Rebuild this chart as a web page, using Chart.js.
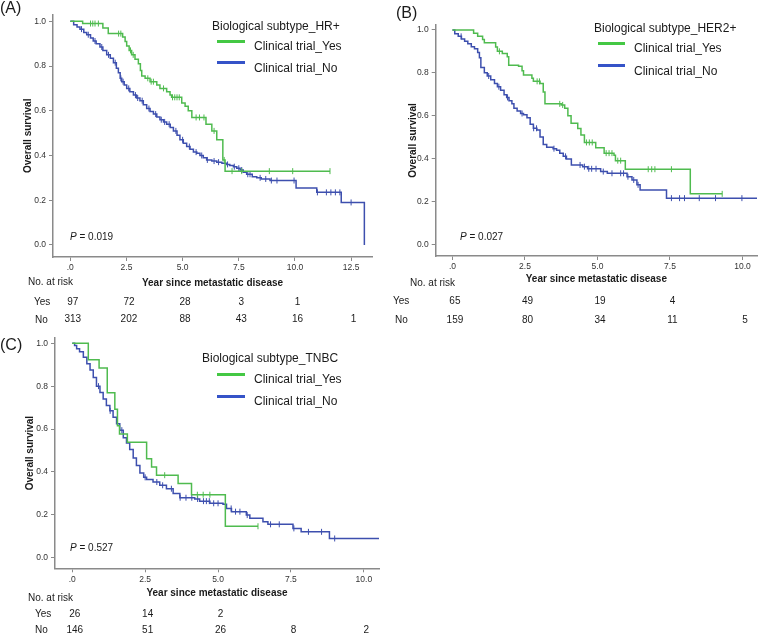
<!DOCTYPE html>
<html><head><meta charset="utf-8">
<script src="https://cdn.jsdelivr.net/npm/chart.js@4.4.1/dist/chart.umd.min.js"></script>
<style>
body{margin:0;background:#fff;font-family:"Liberation Sans",Arial,sans-serif;}
#wrap{position:relative;width:762px;height:633px;overflow:hidden;background:#fff;}
canvas{position:absolute;}
.t{position:absolute;white-space:nowrap;color:#1a1a1a;line-height:1;}
.ln{position:absolute;height:3px;}
</style></head><body><div id="wrap">
<canvas id="cA" width="385" height="330" style="left:0;top:0"></canvas>
<canvas id="cB" width="377" height="330" style="left:385px;top:0"></canvas>
<canvas id="cC" width="390" height="333" style="left:0;top:300px"></canvas>
</div>
<script>
// ---------- DATA ----------
// Panel A: HR+
const xTicksA = [0, 2.5, 5, 7.5, 10, 12.5];
const tA_yes = [0, 0.55, 1.45, 1.69, 2.33, 2.44, 2.51, 2.62, 2.73, 2.88, 3.03, 3.12, 3.18, 3.33, 3.55, 3.85, 3.99, 4.29, 4.44, 4.51, 4.96, 5.11, 5.25, 5.41, 6.04, 6.30, 6.52, 6.79, 6.89, 11.56];
const sA_yes = [1.0, 0.99, 0.97, 0.945, 0.93, 0.91, 0.89, 0.87, 0.85, 0.83, 0.81, 0.78, 0.755, 0.745, 0.73, 0.715, 0.70, 0.685, 0.67, 0.66, 0.635, 0.62, 0.60, 0.57, 0.54, 0.51, 0.47, 0.38, 0.33, 0.33];
const cA_yes = [0.9, 1.0, 1.1, 1.25, 2.15, 2.25, 2.68, 2.80, 3.45, 3.6, 3.7, 4.15, 4.55, 4.65, 4.75, 4.85, 5.6, 5.75, 5.95, 6.4, 6.85, 7.2, 7.63, 8.86, 9.9, 11.56];
const tA_no = [0, 0.15, 0.3, 0.43, 0.6, 0.73, 0.9, 1.02, 1.15, 1.32, 1.45, 1.62, 1.78, 1.92, 2.05, 2.14, 2.22, 2.29, 2.4, 2.51, 2.65, 2.81, 2.95, 3.10, 3.25, 3.40, 3.55, 3.70, 3.85, 3.99, 4.15, 4.29, 4.45, 4.59, 4.75, 4.88, 5.03, 5.18, 5.33, 5.48, 5.63, 5.77, 5.92, 6.07, 6.3, 6.52, 6.75, 6.96, 7.1, 7.26, 7.41, 7.56, 7.7, 7.85, 8.1, 8.30, 8.5, 8.89, 10.05, 10.97, 12.06, 13.09];
const sA_no = [1.0, 0.985, 0.975, 0.965, 0.95, 0.94, 0.925, 0.912, 0.9, 0.885, 0.87, 0.85, 0.835, 0.815, 0.79, 0.77, 0.745, 0.73, 0.715, 0.70, 0.685, 0.67, 0.657, 0.645, 0.627, 0.61, 0.597, 0.585, 0.572, 0.56, 0.55, 0.54, 0.525, 0.51, 0.49, 0.47, 0.455, 0.44, 0.428, 0.415, 0.41, 0.40, 0.39, 0.38, 0.375, 0.37, 0.365, 0.36, 0.355, 0.35, 0.343, 0.335, 0.325, 0.316, 0.305, 0.30, 0.295, 0.288, 0.255, 0.235, 0.19, 0.0];
const cA_no = [0.5, 0.8, 1.1, 1.4, 1.7, 2.0, 2.25, 2.35, 2.6, 2.9, 3.0, 3.2, 3.5, 3.8, 4.05, 4.2, 4.4, 4.7, 5.0, 5.3, 5.6, 5.85, 6.1, 6.4, 6.6, 7.0, 7.3, 7.5, 7.63, 7.9, 8.0, 8.45, 8.7, 8.95, 9.2, 9.96, 11.0, 11.4, 11.6, 11.8, 12.0, 12.5];
const riskA_yes = [97, 72, 28, 3, 1];
const riskA_no = [313, 202, 88, 43, 16, 1];

// Panel B: HER2+
const xTicksB = [0, 2.5, 5, 7.5, 10];
const tB_yes = [0, 0.73, 0.87, 1.04, 1.10, 1.49, 1.55, 1.72, 1.89, 1.94, 2.28, 2.40, 2.45, 2.74, 2.79, 3.02, 3.13, 3.19, 3.75, 3.87, 3.98, 4.09, 4.32, 4.43, 4.55, 4.94, 5.23, 5.57, 5.62, 5.96, 8.20, 9.30];
const sB_yes = [1.0, 0.985, 0.97, 0.955, 0.94, 0.92, 0.90, 0.89, 0.875, 0.835, 0.83, 0.81, 0.79, 0.775, 0.76, 0.75, 0.71, 0.655, 0.65, 0.635, 0.60, 0.565, 0.54, 0.51, 0.475, 0.45, 0.425, 0.415, 0.39, 0.35, 0.235, 0.235];
const cB_yes = [1.62, 2.92, 3.0, 3.7, 3.8, 4.62, 4.72, 4.82, 5.3, 5.4, 5.5, 5.7, 5.8, 6.75, 6.87, 6.98, 7.55, 9.30];
const tB_no = [0, 0.08, 0.2, 0.31, 0.42, 0.53, 0.65, 0.76, 0.87, 0.93, 0.98, 1.10, 1.2, 1.32, 1.45, 1.55, 1.66, 1.78, 1.87, 1.95, 2.05, 2.12, 2.23, 2.35, 2.45, 2.57, 2.68, 2.79, 2.91, 3.02, 3.13, 3.25, 3.47, 3.59, 3.70, 3.82, 3.93, 4.10, 4.49, 4.66, 5.11, 5.34, 6.02, 6.19, 6.36, 6.47, 7.38, 10.5];
const sB_no = [1.0, 0.982, 0.97, 0.958, 0.947, 0.935, 0.922, 0.912, 0.895, 0.87, 0.825, 0.8, 0.785, 0.768, 0.75, 0.735, 0.718, 0.698, 0.685, 0.67, 0.655, 0.635, 0.622, 0.61, 0.604, 0.59, 0.56, 0.541, 0.533, 0.5, 0.465, 0.452, 0.446, 0.438, 0.425, 0.41, 0.398, 0.37, 0.362, 0.352, 0.339, 0.331, 0.315, 0.30, 0.277, 0.253, 0.215, 0.215];
const cB_no = [0.3, 1.25, 1.6, 1.9, 2.4, 2.8, 2.9, 3.5, 3.9, 4.4, 4.55, 4.7, 4.8, 4.95, 5.2, 5.5, 5.8, 5.9, 6.05, 6.25, 6.4, 7.55, 7.83, 8.0, 8.51, 9.07, 9.98];
const riskB_yes = [65, 49, 19, 4];
const riskB_no = [159, 80, 34, 11, 5];

// Panel C: TNBC
const xTicksC = [0, 2.5, 5, 7.5, 10];
const tC_yes = [0, 0.55, 0.92, 1.20, 1.46, 1.55, 1.62, 1.89, 2.55, 2.72, 2.89, 3.63, 4.09, 5.25, 6.37];
const sC_yes = [1.0, 0.923, 0.885, 0.769, 0.692, 0.615, 0.577, 0.538, 0.462, 0.423, 0.385, 0.346, 0.294, 0.147, 0.147];
const cC_yes = [3.17, 4.29, 4.49, 4.72, 6.37];
const tC_no = [0, 0.08, 0.15, 0.25, 0.38, 0.5, 0.61, 0.72, 0.83, 0.95, 1.06, 1.17, 1.29, 1.4, 1.52, 1.63, 1.75, 1.86, 1.97, 2.09, 2.2, 2.32, 2.45, 2.55, 2.77, 3.0, 3.23, 3.46, 3.69, 4.2, 4.37, 4.72, 5.17, 5.29, 5.46, 5.97, 6.09, 6.54, 6.71, 7.57, 7.85, 8.82, 10.54];
const sC_no = [1.0, 0.99, 0.975, 0.96, 0.935, 0.905, 0.875, 0.84, 0.8, 0.77, 0.74, 0.71, 0.685, 0.655, 0.625, 0.595, 0.56, 0.535, 0.505, 0.465, 0.43, 0.395, 0.375, 0.365, 0.353, 0.338, 0.322, 0.3, 0.28, 0.274, 0.264, 0.254, 0.25, 0.23, 0.215, 0.199, 0.184, 0.168, 0.156, 0.137, 0.121, 0.09, 0.09];
const cC_no = [0.9, 1.3, 1.7, 2.5, 2.9, 3.1, 3.4, 3.7, 3.9, 4.1, 4.3, 4.5, 4.6, 4.7, 4.85, 5.0, 5.45, 5.6, 5.75, 6.0, 6.8, 7.1, 7.6, 8.1, 8.55, 9.0];
const riskC_yes = [26, 14, 2];
const riskC_no = [146, 51, 26, 8, 2];

const yTicks = [0, 0.2, 0.4, 0.6, 0.8, 1.0];

// ---------- STYLE ----------
const GREEN = '#4fbb4f', BLUE = '#3d4fae', AXIS = '#8a8a8a', TXT = '#1a1a1a';
const FONT = '"Liberation Sans", Arial, sans-serif';

function stepAt(ts, ss, t) { let v = ss[0]; for (let i = 0; i < ts.length; i++) if (ts[i] <= t) v = ss[i]; return v; }
function pts(ts, ss) { return ts.map((t, i) => ({x: t, y: ss[i]})); }
function cens(cs, ts, ss) { return cs.map(t => ({x: t, y: stepAt(ts, ss, t)})); }

const riskPlugin = {
  id: 'riskTable',
  afterDraw(chart, args, o) {
    if (!o || !o.rows) return;
    const ctx = chart.ctx, xs = chart.scales.x;
    ctx.save();
    ctx.font = '10px ' + FONT; ctx.fillStyle = TXT; ctx.textAlign = 'center'; ctx.textBaseline = 'middle';
    o.rows.forEach(r => r.values.forEach((v, i) => ctx.fillText(String(v), xs.getPixelForValue(o.times[i]) + 2.5, r.y)));
    ctx.restore();
  }
};

function makeChart(id, p) {
  const ds = [
    {data: pts(p.tNo, p.sNo), borderColor: BLUE, borderWidth: 1.5, stepped: true, pointRadius: 0, fill: false, order: 2},
    {data: pts(p.tYes, p.sYes), borderColor: GREEN, borderWidth: 1.5, stepped: true, pointRadius: 0, fill: false, order: 1},
    {data: cens(p.cNo, p.tNo, p.sNo), showLine: false, pointStyle: 'line', rotation: 90, pointRadius: 3, borderColor: BLUE, borderWidth: 1, order: 2},
    {data: cens(p.cYes, p.tYes, p.sYes), showLine: false, pointStyle: 'line', rotation: 90, pointRadius: 3, borderColor: GREEN, borderWidth: 1, order: 1}
  ];
  return new Chart(document.getElementById(id), {
    type: 'line',
    data: {datasets: ds},
    plugins: [riskPlugin],
    options: {
      responsive: false, animation: false, devicePixelRatio: 1,
      layout: {padding: p.pad},
      plugins: {legend: {display: false}, tooltip: {enabled: false},
        riskTable: {times: p.xTicks, rows: p.rows}},
      scales: {
        x: {type: 'linear', min: p.xmin, max: p.xmax,
          afterBuildTicks: s => { s.ticks = p.xTicks.map(v => ({value: v})); },
          afterFit: s => { s.height = p.xh; },
          grid: {display: true, drawOnChartArea: false, drawTicks: true, tickLength: 4, color: AXIS, lineWidth: 1},
          border: {display: true, color: AXIS, width: 1.5},
          ticks: {callback: v => v === 0 ? '.0' : v.toFixed(1), font: {size: 8.5, family: FONT}, color: '#333', padding: 2, maxRotation: 0},
          title: {display: true, text: 'Year since metastatic disease', font: {size: 10, weight: 'bold', family: FONT}, color: TXT, padding: 0}
        },
        y: {type: 'linear', min: p.ymin, max: p.ymax,
          afterBuildTicks: s => { s.ticks = yTicks.map(v => ({value: v})); },
          afterFit: s => { s.width = p.yw; },
          grid: {display: true, drawOnChartArea: false, drawTicks: true, tickLength: 4, color: AXIS, lineWidth: 1},
          border: {display: true, color: AXIS, width: 1.5},
          ticks: {callback: v => v.toFixed(1), font: {size: 8.5, family: FONT}, color: '#333', padding: 3},
          title: {display: true, text: 'Overall survival', font: {size: 10, weight: 'bold', family: FONT}, color: TXT, padding: {top: p.ytp, bottom: 0}}
        }
      }
    }
  });
}

makeChart('cA', {tYes: tA_yes, sYes: sA_yes, cYes: cA_yes, tNo: tA_no, sNo: sA_no, cNo: cA_no,
  xTicks: xTicksA, xmin: -0.77, xmax: 13.43, ymin: -0.054, ymax: 1.03,
  pad: {left: 0, top: 14.6, right: 13, bottom: 41}, xh: 32, yw: 53, ytp: 22,
  rows: [{y: 302, values: riskA_yes}, {y: 319.5, values: riskA_no}]});
makeChart('cB', {tYes: tB_yes, sYes: sB_yes, cYes: cB_yes, tNo: tB_no, sNo: sB_no, cNo: cB_no,
  xTicks: xTicksB, xmin: -0.577, xmax: 10.5, ymin: -0.055, ymax: 1.023,
  pad: {left: 0, top: 25, right: 0, bottom: 45}, xh: 29, yw: 50.7, ytp: 22,
  rows: [{y: 301, values: riskB_yes}, {y: 320, values: riskB_no}]});
makeChart('cC', {tYes: tC_yes, sYes: sC_yes, cYes: cC_yes, tNo: tC_no, sNo: sC_no, cNo: cC_no,
  xTicks: xTicksC, xmin: -0.592, xmax: 10.52, ymin: -0.049, ymax: 1.025,
  pad: {left: 0, top: 37.9, right: 11, bottom: 33.7}, xh: 31, yw: 55, ytp: 24,
  rows: [{y: 314, values: riskC_yes}, {y: 330, values: riskC_no}]});

// ---------- TEXT ----------
const wrap = document.getElementById('wrap');
function txt(html, left, cy, size, extra) {
  const d = document.createElement('div'); d.className = 't'; d.innerHTML = html;
  d.style.left = left + 'px'; d.style.top = (cy - size * 0.5) + 'px'; d.style.fontSize = size + 'px';
  if (extra) Object.assign(d.style, extra);
  wrap.appendChild(d);
}
function line(left, top, width, color) {
  const d = document.createElement('div'); d.className = 'ln';
  d.style.left = left + 'px'; d.style.top = top + 'px'; d.style.width = width + 'px'; d.style.background = color;
  wrap.appendChild(d);
}
// panel labels
txt('(A)', 0, 7.5, 16); txt('(B)', 396, 12.5, 16); txt('(C)', 0, 345, 16);
// legends
txt('Biological subtype_HR+', 212, 25.5, 12); line(217, 39.5, 28, '#44c844'); txt('Clinical trial_Yes', 254, 45.5, 12);
line(217, 61, 28, '#3553c8'); txt('Clinical trial_No', 254, 68, 12);
txt('Biological subtype_HER2+', 594, 28.3, 12); line(598, 42, 27, '#44c844'); txt('Clinical trial_Yes', 634, 48.3, 12);
line(598, 63.5, 27, '#3553c8'); txt('Clinical trial_No', 634, 70.7, 12);
txt('Biological subtype_TNBC', 202, 358.3, 12); line(217, 372.5, 28, '#44c844'); txt('Clinical trial_Yes', 254, 379, 12);
line(217, 394.5, 28, '#3553c8'); txt('Clinical trial_No', 254, 400.7, 12);
// p-values
txt('<i>P</i> = 0.019', 70, 236.7, 10); txt('<i>P</i> = 0.027', 460, 236.7, 10); txt('<i>P</i> = 0.527', 70, 548.3, 10);
// risk table labels
txt('No. at risk', 28, 282, 10); txt('Yes', 34, 302, 10); txt('No', 35, 319.5, 10);
txt('No. at risk', 410, 283, 10); txt('Yes', 393, 301, 10); txt('No', 395, 320, 10);
txt('No. at risk', 28, 598, 10); txt('Yes', 35, 614, 10); txt('No', 35, 630, 10);
</script>
</body></html>
